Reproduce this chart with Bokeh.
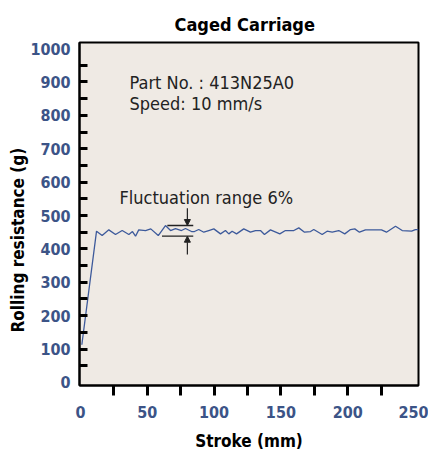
from bokeh.plotting import figure
from bokeh.models import FixedTicker, Arrow, NormalHead, Range1d, Label, Title
from bokeh.embed import file_html
from bokeh.resources import INLINE

# data
stroke = [1, 12.0, 16.2, 21.2, 26.2, 31.2, 36.2, 38.9, 41.2, 43.6, 48.7, 52.6, 58.2, 63.6, 67.4,
          71.1, 75.6, 78.6, 83.1, 85.3, 88.5, 92.3, 96.0, 99.8, 104.8, 108.5, 111.0, 113.5,
          116.8, 122.2, 127.2, 131.0, 134.7, 137.7, 142.2, 149.2, 153.4, 159.7, 163.4, 167.7,
          172.2, 174.6, 180.9, 184.6, 188.4, 193.3, 197.8, 202.1, 205.3, 208.8, 213.3, 225.3,
          229.0, 235.8, 240.8, 247.8, 250.7, 253.0]
resistance = [113, 453, 440, 457, 443, 455, 443, 452, 438, 457, 455, 460, 440, 470, 455,
              461, 455, 461, 452, 452, 458, 450, 455, 460, 445, 455, 445, 453,
              445, 460, 450, 455, 455, 443, 457, 445, 455, 455, 463, 450,
              452, 458, 443, 453, 450, 455, 445, 458, 460, 450, 457, 457,
              450, 468, 455, 453, 458, 458]

x_labels = [0, 50, 100, 150, 200, 250]
x_minor = [25, 50, 75, 100, 125, 150, 175, 200, 225]
y_labels = [0, 100, 200, 300, 400, 500, 600, 700, 800, 900, 1000]
y_minor = [50 * i for i in range(1, 20)]

# fluctuation band annotation
band_x = 80
band_upper = 470
band_lower = 438
band_upper_x = (65, 84.4)
band_lower_x = (61, 84.4)
arrow_top = 522
arrow_bottom = 383

TICK_COLOR = "#3C5487"
LINE_COLOR = "#3D5A9B"
FONT = "DejaVu Sans Condensed"

p = figure(frame_width=339, frame_height=343, output_backend="svg", toolbar_location=None,
           x_range=Range1d(-0.75, 253), y_range=Range1d(-9, 1018),
           min_border_left=79, min_border_right=10, min_border_top=42, min_border_bottom=62,
           background_fill_color="#EFEAE4", border_fill_color="white")
p.outline_line_color = "black"
p.outline_line_width = 2
p.grid.visible = False

p.line(stroke, resistance, line_color=LINE_COLOR, line_width=1.3)

# axes
xa = p.xaxis[0]
xa.ticker = FixedTicker(ticks=x_labels, minor_ticks=x_minor)
xa.major_tick_in = 0
xa.major_tick_out = 0
xa.minor_tick_in = 0
xa.minor_tick_out = 10
xa.minor_tick_line_width = 3
xa.minor_tick_line_color = "black"
xa.axis_line_width = 2
xa.axis_line_color = "black"
xa.major_label_standoff = 10
xa.major_label_text_font = FONT
xa.major_label_text_font_style = "bold"
xa.major_label_text_font_size = "16px"
xa.major_label_text_color = TICK_COLOR
xa.axis_label = "Stroke (mm)"
xa.axis_label_standoff = 10
xa.axis_label_text_font = FONT
xa.axis_label_text_font_style = "bold"
xa.axis_label_text_font_size = "17px"
xa.axis_label_text_color = "black"

ya = p.yaxis[0]
ya.ticker = FixedTicker(ticks=y_labels, minor_ticks=y_minor)
ya.major_tick_in = 0
ya.major_tick_out = 0
ya.minor_tick_in = 8
ya.minor_tick_out = 0
ya.minor_tick_line_width = 3
ya.minor_tick_line_color = "black"
ya.axis_line_width = 2
ya.axis_line_color = "black"
ya.major_label_standoff = 9
ya.major_label_text_font = FONT
ya.major_label_text_font_style = "bold"
ya.major_label_text_font_size = "16px"
ya.major_label_text_color = TICK_COLOR

# y label as a side title so it can sit below the frame centre like the reference
p.add_layout(Title(text="Rolling resistance (g)", align="left", offset=53, standoff=0,
                   text_font=FONT, text_font_style="bold", text_font_size="17px",
                   text_color="black"), "left")

p.title.text = "Caged Carriage"
p.title.align = "left"
p.title.offset = 95
p.title.standoff = 16
p.title.text_font = FONT
p.title.text_font_style = "bold"
p.title.text_font_size = "18px"
p.title.text_color = "black"

# in-plot texts
p.add_layout(Label(x=36.7, y=899, text="Part No. : 413N25A0", text_align="left",
                   text_baseline="alphabetic", text_font=FONT, text_font_size="18px",
                   text_color="#222222"))
p.add_layout(Label(x=36.7, y=836, text="Speed: 10 mm/s", text_align="left",
                   text_baseline="alphabetic", text_font=FONT, text_font_size="18px",
                   text_color="#222222"))
p.add_layout(Label(x=29.2, y=555, text="Fluctuation range 6%", text_align="left",
                   text_baseline="alphabetic", text_font=FONT, text_font_size="18px",
                   text_color="#222222"))

# fluctuation band
p.segment(x0=[band_upper_x[0], band_lower_x[0]], y0=[band_upper, band_lower],
          x1=[band_upper_x[1], band_lower_x[1]], y1=[band_upper, band_lower],
          line_color="#222222", line_width=1.3)
p.add_layout(Arrow(x_start=band_x, y_start=arrow_top, x_end=band_x, y_end=band_upper,
                   line_color="#222222", line_width=1.2,
                   end=NormalHead(size=6, fill_color="#222222", line_color="#222222")))
p.add_layout(Arrow(x_start=band_x, y_start=arrow_bottom, x_end=band_x, y_end=band_lower,
                   line_color="#222222", line_width=1.2,
                   end=NormalHead(size=6, fill_color="#222222", line_color="#222222")))

open("out.html", "w").write(file_html(p, INLINE))
